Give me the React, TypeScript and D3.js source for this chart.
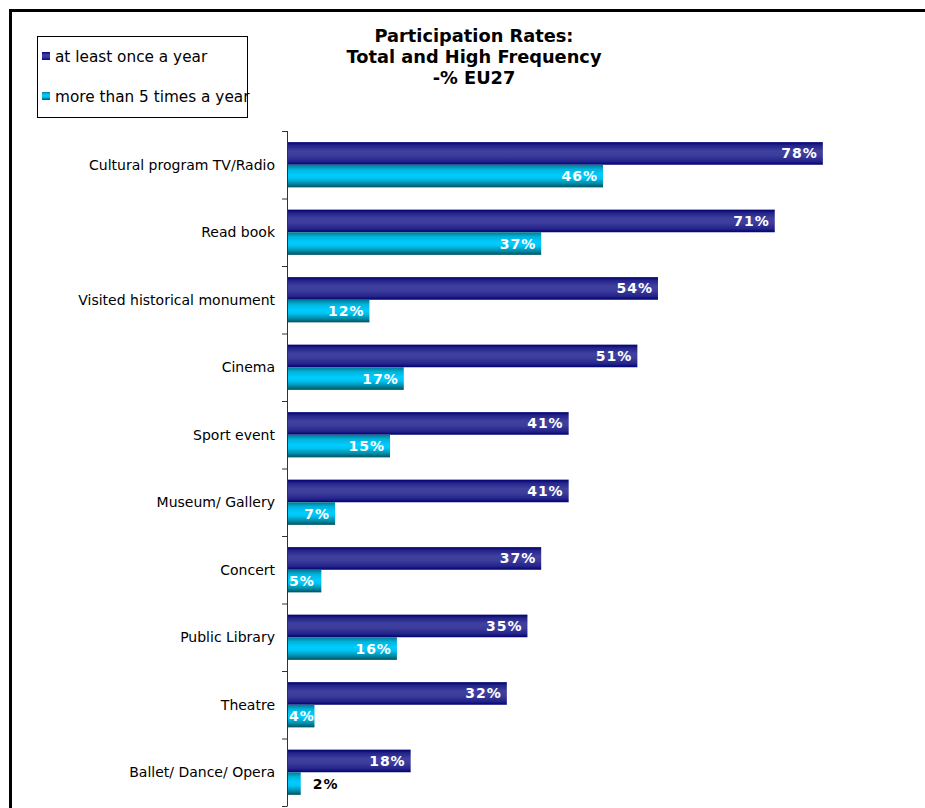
import React from "react";
import * as d3 from "d3";

const categories = [
  "Cultural program TV/Radio",
  "Read book",
  "Visited historical monument",
  "Cinema",
  "Sport event",
  "Museum/ Gallery",
  "Concert",
  "Public Library",
  "Theatre",
  "Ballet/ Dance/ Opera",
];
const seriesNames = ["at least once a year", "more than 5 times a year"];
const atLeastOnce = [78, 71, 54, 51, 41, 41, 37, 35, 32, 18];
const moreThan5 = [46, 37, 12, 17, 15, 7, 5, 16, 4, 2];
const titleLines = ["Participation Rates:", "Total and High Frequency", "-% EU27"];

const FONT = "'DejaVu Sans', Verdana, sans-serif";

export default function App() {
  const W = 925;
  const H = 808;
  const x = d3.scaleLinear().domain([0, 100]).range([287, 287 + 687]);
  const y = d3.scaleBand<string>().domain(categories).range([131, 806]).padding(0);
  const bw = y.bandwidth();
  const sub = d3
    .scaleBand<number>()
    .domain([0, 1])
    .range([bw * 0.165, bw * 0.835])
    .padding(0);
  const series = [atLeastOnce, moreThan5];
  const grads = ["gDark", "gCyan"];
  const boundaries = [...categories.map((c) => y(c) as number), 806];

  return (
    <svg
      width={W}
      height={H}
      style={{ position: "absolute", left: 0, top: 0, background: "#fff" }}
      fontFamily={FONT}
    >
      <defs>
        <linearGradient id="gDark" x1="0" y1="0" x2="0" y2="1">
          <stop offset="0%" stopColor="#000070" />
          <stop offset="15%" stopColor="#24248a" />
          <stop offset="40%" stopColor="#40409f" />
          <stop offset="60%" stopColor="#3c3c9c" />
          <stop offset="85%" stopColor="#23238a" />
          <stop offset="100%" stopColor="#000070" />
        </linearGradient>
        <linearGradient id="gCyan" x1="0" y1="0" x2="0" y2="1">
          <stop offset="0%" stopColor="#007890" />
          <stop offset="20%" stopColor="#00b4dc" />
          <stop offset="45%" stopColor="#00ccff" />
          <stop offset="60%" stopColor="#00c4f2" />
          <stop offset="82%" stopColor="#008eab" />
          <stop offset="100%" stopColor="#005060" />
        </linearGradient>
      </defs>
      <rect x={0} y={0} width={W} height={H} fill="#fff" />
      {/* outer frame */}
      <rect x={10.5} y={10.5} width={2000} height={2000} fill="none" stroke="#000" strokeWidth={3} />

      {/* title */}
      {titleLines.map((t, i) => (
        <text
          key={i}
          x={474}
          y={42 + i * 21}
          textAnchor="middle"
          fontSize={17.8}
          fontWeight="bold"
          fill="#000"
        >
          {t}
        </text>
      ))}

      {/* legend */}
      <rect x={37.5} y={36.5} width={210} height={81} fill="#fff" stroke="#000" strokeWidth={1} />
      {seriesNames.map((s, i) => (
        <g key={s}>
          <rect x={42} y={52 + i * 40} width={8} height={8} fill={`url(#${grads[i]})`} />
          <text x={55} y={61.5 + i * 40} fontSize={15.3} fill="#000">
            {s}
          </text>
        </g>
      ))}

      {/* bars */}
      {categories.map((c, ci) => (
        <g key={c} transform={`translate(0,${y(c)})`}>
          {series.map((vals, si) => {
            const v = vals[ci];
            const x0 = x(0);
            const x1 = x(v);
            const by = sub(si) as number;
            const bh = sub.bandwidth();
            const inside = x1 - x0 > 22;
            const small = inside && x1 - x0 < 35;
            return (
              <g key={si}>
                <rect x={x0} y={by} width={x1 - x0} height={bh} fill={`url(#${grads[si]})`} />
                <text
                  x={!inside ? x1 + 12 : small ? x0 + 2 : x1 - 5}
                  y={by + bh / 2}
                  dy="0.36em"
                  textAnchor={inside && !small ? "end" : "start"}
                  fontSize={14}
                  fontWeight="bold"
                  letterSpacing={1}
                  fill={inside ? "#fff" : "#000"}
                >
                  {`${v}%`}
                </text>
              </g>
            );
          })}
          <text
            x={275}
            y={bw / 2}
            dy="0.36em"
            textAnchor="end"
            fontSize={14}
            fill="#000"
          >
            {c}
          </text>
        </g>
      ))}

      {/* axis */}
      <line x1={287.5} x2={287.5} y1={131} y2={806} stroke="#333" strokeWidth={1} />
      {boundaries.map((b, i) => (
        <line key={i} x1={282} x2={287.5} y1={b + 0.5} y2={b + 0.5} stroke="#333" strokeWidth={1} />
      ))}
    </svg>
  );
}
